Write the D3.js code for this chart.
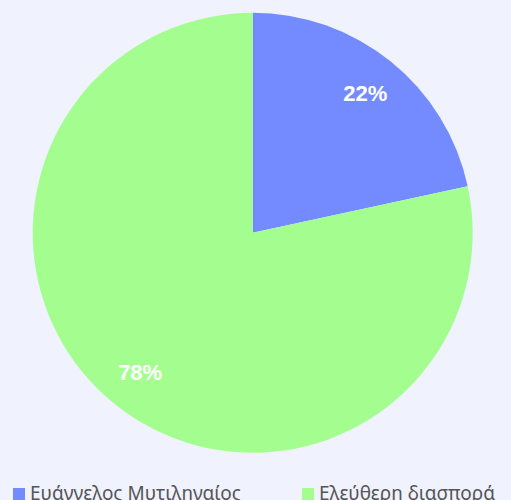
<!DOCTYPE html>
<html>
<head>
<meta charset="utf-8">
<script src="https://cdn.jsdelivr.net/npm/d3@7"></script>
<style>
  html, body { margin: 0; padding: 0; background: #f0f2fe; overflow: hidden; }
</style>
</head>
<body>
<div id="chart"></div>
<script>
const categories = ["Ευάγγελος Μυτιληναίος", "Ελεύθερη διασπορά"]
const values = [21.6, 78.4]
const colors = ["#738bff", "#a4fe8f"]

const width = 511, height = 500
const cx = 252.7, cy = 232.8, radius = 220

const svg = d3.select("#chart").append("svg")
    .attr("width", width)
    .attr("height", height)

const group = svg.append("g").attr("transform", `translate(${cx},${cy})`)

const pie = d3.pie().sort(null)(values)
const arc = d3.arc().innerRadius(0).outerRadius(radius)
const labelArc = d3.arc().innerRadius(radius * 0.815).outerRadius(radius * 0.815)

group.selectAll("path")
    .data(pie)
  .enter().append("path")
    .attr("d", arc)
    .attr("fill", (d, i) => colors[i])

const total = d3.sum(values)
group.selectAll("text.pct")
    .data(pie)
  .enter().append("text")
    .attr("class", "pct")
    .attr("transform", d => `translate(${labelArc.centroid(d)})`)
    .attr("text-anchor", "middle")
    .attr("dy", "0.36em")
    .style("font-family", "'Liberation Sans', Arial, sans-serif")
    .style("font-weight", "bold")
    .style("font-size", "22px")
    .style("fill", "#ffffff")
    .text(d => Math.round(d.value / total * 100) + "%")

// legend
const legendX = d3.scalePoint().domain(categories).range([13, 302])
const legend = svg.selectAll("g.legend")
    .data(categories)
  .enter().append("g")
    .attr("class", "legend")
    .attr("transform", d => `translate(${legendX(d)},488)`)

legend.append("rect")
    .attr("width", 12)
    .attr("height", 12)
    .attr("fill", (d, i) => colors[i])

legend.append("text")
    .attr("x", 17)
    .attr("y", 12)
    .style("font-family", "'Noto Sans', sans-serif")
    .style("font-size", "19px")
    .style("fill", "#555555")
    .text(d => d)
</script>
</body>
</html>
